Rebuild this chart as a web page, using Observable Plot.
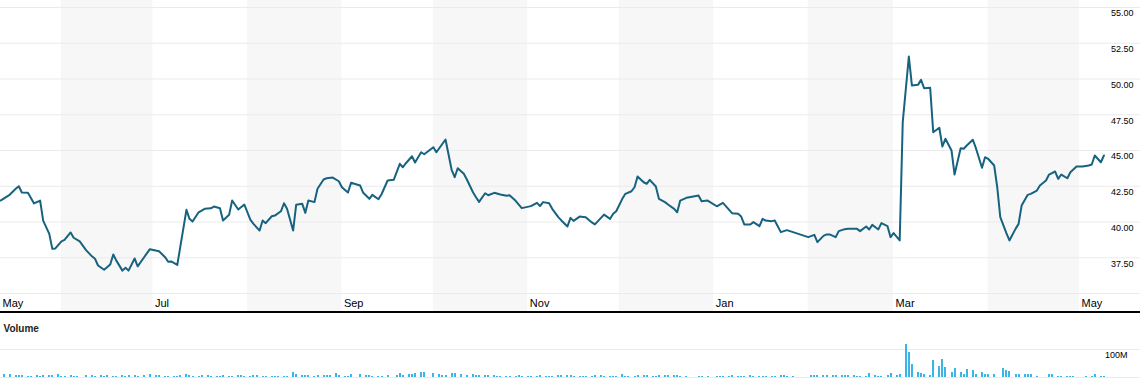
<!DOCTYPE html>
<html><head><meta charset="utf-8">
<script src="https://cdn.jsdelivr.net/npm/d3@7"></script>
<script src="https://cdn.jsdelivr.net/npm/@observablehq/plot@0.6"></script>
<style>
html,body{margin:0;padding:0;background:#fff;}
#chart{width:1140px;height:392px;overflow:hidden;font-family:"Liberation Sans",Arial,sans-serif;}
#sep{height:2px;background:#000;}
svg{display:block;}
</style></head><body>
<div id="chart"><div id="price"></div><div id="sep"></div><div id="volume"></div></div>
<script>
// ---- data ----
const xDomain = ["2018-05-12", "2019-05-21"];

const shadedMonthStarts = ["2018-06-01","2018-08-01","2018-10-01","2018-12-01","2019-02-01","2019-04-01"];
const shadedMonthEnds   = ["2018-07-01","2018-09-01","2018-11-01","2019-01-01","2019-03-01","2019-05-01"];

const monthTickDates  = ["2018-05-12","2018-07-01","2018-09-01","2018-11-01","2019-01-01","2019-03-01","2019-05-01"];
const monthTickLabels = ["May","Jul","Sep","Nov","Jan","Mar","May"];

const priceGridTicks  = [35, 37.5, 40, 42.5, 45, 47.5, 50, 52.5, 55];
const priceLabelTicks = [37.5, 40, 42.5, 45, 47.5, 50, 52.5, 55];
const volumeGridTicks = [0, 100];
const volumeLabelTicks = [100];

// closing price (date, close)
const prices = [
["2018-05-12",41.5],["2018-05-15",41.9],["2018-05-17",42.32],["2018-05-18",42.5],["2018-05-19",42.06],["2018-05-21",42.04],["2018-05-23",41.3],["2018-05-25",41.5],["2018-05-26",40.1],["2018-05-28",39.17],["2018-05-29",38.12],["2018-05-30",38.15],
["2018-06-01",38.64],["2018-06-02",38.75],["2018-06-04",39.27],["2018-06-05",38.9],["2018-06-07",38.64],["2018-06-09",38.05],["2018-06-11",37.6],["2018-06-12",37.43],["2018-06-13",36.96],["2018-06-15",36.66],["2018-06-17",37.03],["2018-06-18",37.73],["2018-06-19",37.3],["2018-06-21",36.6],["2018-06-22",36.8],["2018-06-23",36.6],["2018-06-25",37.45],["2018-06-26",36.9],["2018-06-28",37.5],["2018-06-30",38.1],
["2018-07-03",37.96],["2018-07-05",37.54],["2018-07-06",37.22],["2018-07-07",37.24],["2018-07-09",37.0],["2018-07-12",40.85],["2018-07-13",40.22],["2018-07-14",40.03],["2018-07-16",40.68],["2018-07-18",40.92],["2018-07-20",40.96],["2018-07-21",41.08],["2018-07-23",40.96],["2018-07-24",40.1],["2018-07-26",40.5],["2018-07-27",41.5],["2018-07-29",40.87],["2018-07-31",41.22],
["2018-08-02",40.15],["2018-08-03",39.87],["2018-08-05",39.4],["2018-08-06",40.1],["2018-08-07",39.92],["2018-08-09",40.4],["2018-08-10",40.45],["2018-08-12",40.75],["2018-08-13",41.31],["2018-08-14",40.92],["2018-08-16",39.4],["2018-08-17",41.2],["2018-08-19",41.27],["2018-08-20",40.64],["2018-08-21",41.5],["2018-08-23",41.39],["2018-08-24",42.32],["2018-08-26",42.97],["2018-08-27",43.06],["2018-08-29",43.11],["2018-08-31",42.85],
["2018-09-01",42.43],["2018-09-03",42.06],["2018-09-04",42.74],["2018-09-07",42.55],["2018-09-08",42.04],["2018-09-10",41.62],["2018-09-11",41.9],["2018-09-13",41.59],["2018-09-14",41.94],["2018-09-16",42.9],["2018-09-18",42.95],["2018-09-20",44.07],["2018-09-21",43.83],["2018-09-22",44.11],["2018-09-24",44.6],["2018-09-25",44.16],["2018-09-27",44.88],["2018-09-28",44.74],
["2018-10-01",45.23],["2018-10-02",44.88],["2018-10-05",45.77],["2018-10-07",43.65],["2018-10-08",43.13],["2018-10-09",43.76],["2018-10-11",43.37],["2018-10-12",42.97],["2018-10-14",42.08],["2018-10-15",41.73],["2018-10-16",41.41],["2018-10-18",42.01],["2018-10-19",41.87],["2018-10-21",42.04],["2018-10-23",41.92],["2018-10-25",41.83],["2018-10-26",41.87],["2018-10-28",41.48],["2018-10-30",40.97],
["2018-11-02",41.11],["2018-11-04",41.34],["2018-11-05",41.11],["2018-11-06",41.39],["2018-11-08",41.31],["2018-11-09",40.92],["2018-11-11",40.34],["2018-11-12",40.11],["2018-11-14",39.69],["2018-11-15",40.29],["2018-11-16",40.08],["2018-11-18",40.38],["2018-11-20",40.34],["2018-11-22",39.97],["2018-11-23",39.83],["2018-11-25",40.29],["2018-11-26",40.52],["2018-11-28",40.22],["2018-11-29",40.57],["2018-11-30",40.75],
["2018-12-02",41.62],["2018-12-03",41.97],["2018-12-05",42.15],["2018-12-06",42.43],["2018-12-07",43.18],["2018-12-09",42.78],["2018-12-10",42.67],["2018-12-11",42.95],["2018-12-13",42.48],["2018-12-14",41.62],["2018-12-16",41.39],["2018-12-17",41.22],["2018-12-19",40.92],["2018-12-20",40.68],["2018-12-21",41.5],["2018-12-23",41.69],["2018-12-24",41.73],["2018-12-27",41.85],["2018-12-28",41.45],["2018-12-30",41.5],
["2019-01-02",41.1],["2019-01-04",41.34],["2019-01-07",40.62],["2019-01-09",40.57],["2019-01-10",40.38],["2019-01-11",39.83],["2019-01-13",39.83],["2019-01-14",39.99],["2019-01-16",39.71],["2019-01-17",40.22],["2019-01-18",40.1],["2019-01-20",40.06],["2019-01-21",40.1],["2019-01-23",39.29],["2019-01-25",39.43],["2019-01-27",39.29],["2019-01-29",39.15],
["2019-02-01",38.94],["2019-02-03",39.1],["2019-02-04",38.59],["2019-02-06",39.03],["2019-02-07",39.13],["2019-02-08",39.13],["2019-02-10",38.94],["2019-02-11",39.36],["2019-02-13",39.5],["2019-02-14",39.52],["2019-02-15",39.52],["2019-02-17",39.52],["2019-02-18",39.36],["2019-02-20",39.69],["2019-02-21",39.48],["2019-02-22",39.8],["2019-02-24",39.48],["2019-02-25",39.92],["2019-02-27",39.71],["2019-02-28",38.94],
["2019-03-01",39.22],["2019-03-03",38.71],["2019-03-04",46.98],["2019-03-06",51.57],["2019-03-07",49.55],["2019-03-09",49.59],["2019-03-10",49.94],["2019-03-11",49.36],["2019-03-13",49.38],["2019-03-14",46.28],["2019-03-16",46.59],["2019-03-17",45.28],["2019-03-18",45.82],["2019-03-20",45.0],["2019-03-21",43.32],["2019-03-23",45.16],["2019-03-24",45.12],["2019-03-25",45.35],["2019-03-27",45.75],["2019-03-28",45.16],["2019-03-30",43.79],["2019-03-31",44.53],
["2019-04-01",44.42],["2019-04-03",43.95],["2019-04-04",42.43],["2019-04-05",40.34],["2019-04-07",39.22],["2019-04-08",38.71],["2019-04-10",39.52],["2019-04-11",39.87],["2019-04-12",41.15],["2019-04-14",41.9],["2019-04-15",41.97],["2019-04-17",42.2],["2019-04-18",42.55],["2019-04-20",42.9],["2019-04-21",43.32],["2019-04-23",43.53],["2019-04-24",43.02],["2019-04-25",43.32],["2019-04-27",43.06],["2019-04-28",43.48],["2019-04-30",43.88],
["2019-05-01",43.88],["2019-05-02",43.88],["2019-05-04",43.95],["2019-05-05",44.02],["2019-05-06",44.65],["2019-05-08",44.18],["2019-05-09",44.65]
];

// volume in millions (date, volume)
const volumes = [
["2018-05-13",11],["2018-05-15",11],["2018-05-17",7],["2018-05-18",7],["2018-05-19",7],["2018-05-21",4],["2018-05-22",4],["2018-05-24",7],["2018-05-25",4],["2018-05-26",7],["2018-05-28",7],["2018-05-29",7],["2018-05-31",11],
["2018-06-01",4],["2018-06-02",4],["2018-06-04",7],["2018-06-05",4],["2018-06-06",4],["2018-06-09",7],["2018-06-11",7],["2018-06-12",4],["2018-06-14",7],["2018-06-15",4],["2018-06-16",7],["2018-06-18",4],["2018-06-19",4],["2018-06-21",7],["2018-06-22",4],["2018-06-23",7],["2018-06-25",7],["2018-06-26",4],["2018-06-28",7],["2018-06-30",11],
["2018-07-02",7],["2018-07-03",7],["2018-07-05",4],["2018-07-06",4],["2018-07-08",4],["2018-07-09",4],["2018-07-10",7],["2018-07-12",11],["2018-07-13",7],["2018-07-14",4],["2018-07-16",4],["2018-07-17",7],["2018-07-19",7],["2018-07-20",4],["2018-07-22",4],["2018-07-23",4],["2018-07-24",7],["2018-07-26",4],["2018-07-27",4],["2018-07-29",7],["2018-07-30",7],["2018-07-31",4],
["2018-08-02",4],["2018-08-03",7],["2018-08-04",7],["2018-08-06",4],["2018-08-07",4],["2018-08-09",4],["2018-08-10",4],["2018-08-11",4],["2018-08-13",4],["2018-08-14",4],["2018-08-16",18],["2018-08-17",11],["2018-08-19",7],["2018-08-20",7],["2018-08-21",7],["2018-08-23",4],["2018-08-24",7],["2018-08-26",7],["2018-08-27",7],["2018-08-28",7],["2018-08-30",14],["2018-08-31",7],
["2018-09-02",4],["2018-09-03",4],["2018-09-04",11],["2018-09-07",11],["2018-09-09",7],["2018-09-10",7],["2018-09-11",4],["2018-09-13",4],["2018-09-14",4],["2018-09-16",7],["2018-09-19",7],["2018-09-20",14],["2018-09-21",7],["2018-09-23",11],["2018-09-24",11],["2018-09-25",14],["2018-09-27",18],["2018-09-28",18],
["2018-10-01",14],["2018-10-03",11],["2018-10-04",7],["2018-10-05",7],["2018-10-07",14],["2018-10-08",14],["2018-10-10",11],["2018-10-12",7],["2018-10-14",11],["2018-10-15",7],["2018-10-16",7],["2018-10-18",7],["2018-10-19",7],["2018-10-21",7],["2018-10-22",4],["2018-10-23",4],["2018-10-25",4],["2018-10-26",4],["2018-10-28",4],["2018-10-29",7],["2018-10-30",4],
["2018-11-01",4],["2018-11-02",4],["2018-11-04",4],["2018-11-05",7],["2018-11-07",4],["2018-11-08",4],["2018-11-09",4],["2018-11-11",7],["2018-11-12",7],["2018-11-14",7],["2018-11-15",7],["2018-11-16",4],["2018-11-18",4],["2018-11-19",4],["2018-11-20",4],["2018-11-22",4],["2018-11-23",7],["2018-11-25",7],["2018-11-26",4],["2018-11-28",4],["2018-11-29",4],["2018-11-30",4],
["2018-12-02",11],["2018-12-03",4],["2018-12-04",4],["2018-12-06",4],["2018-12-07",7],["2018-12-09",7],["2018-12-10",7],["2018-12-12",4],["2018-12-13",4],["2018-12-14",7],["2018-12-16",7],["2018-12-17",7],["2018-12-19",7],["2018-12-20",7],["2018-12-21",4],["2018-12-23",4],["2018-12-27",4],["2018-12-28",4],["2018-12-30",4],
["2019-01-02",4],["2019-01-03",4],["2019-01-04",4],["2019-01-06",4],["2019-01-07",7],["2019-01-09",4],["2019-01-10",4],["2019-01-11",4],["2019-01-13",7],["2019-01-14",4],["2019-01-16",4],["2019-01-17",4],["2019-01-18",4],["2019-01-20",4],["2019-01-21",4],["2019-01-23",7],["2019-01-24",7],["2019-01-25",4],["2019-01-27",4],
["2019-02-02",7],["2019-02-03",7],["2019-02-04",7],["2019-02-06",7],["2019-02-07",7],["2019-02-09",7],["2019-02-10",7],["2019-02-12",7],["2019-02-13",7],["2019-02-14",7],["2019-02-16",7],["2019-02-17",5],["2019-02-18",3],["2019-02-20",5],["2019-02-21",14],["2019-02-23",8],["2019-02-24",5],["2019-02-25",5],["2019-02-27",8],["2019-02-28",14],
["2019-03-02",8],["2019-03-03",12],["2019-03-05",118],["2019-03-06",90],["2019-03-07",46],["2019-03-09",18],["2019-03-10",14],["2019-03-11",12],["2019-03-13",8],["2019-03-14",61],["2019-03-16",39],["2019-03-17",65],["2019-03-18",35],["2019-03-20",18],["2019-03-21",33],["2019-03-23",18],["2019-03-24",12],["2019-03-25",29],["2019-03-27",26],["2019-03-28",12],["2019-03-30",18],["2019-03-31",10],
["2019-04-01",10],["2019-04-03",12],["2019-04-06",33],["2019-04-07",25],["2019-04-08",23],["2019-04-10",12],["2019-04-11",12],["2019-04-13",12],["2019-04-14",12],["2019-04-15",10],["2019-04-17",5],["2019-04-21",10],["2019-04-22",10],["2019-04-24",5],["2019-04-25",5],["2019-04-27",5],["2019-04-28",5],["2019-04-29",5],
["2019-05-03",5],["2019-05-05",5],["2019-05-06",10],["2019-05-08",5],["2019-05-09",5]
];

// ---- build ----
const parse = d3.utcParse("%Y-%m-%d");
const domainX = xDomain.map(parse);
const priceData = prices.map(([d, v]) => ({date: parse(d), close: v}));
const volumeData = volumes.map(([d, v]) => ({date: parse(d), volume: v}));
const bands = shadedMonthStarts.map((s, i) => ({start: parse(s), end: parse(shadedMonthEnds[i])}));
const monthTicks = monthTickDates.map((d, i) => ({date: parse(d), label: monthTickLabels[i]}));

const font = '"Liberation Sans", Arial, sans-serif';

const priceChart = Plot.plot({
  width: 1140, height: 311,
  marginTop: 0, marginBottom: 0, marginLeft: 0, marginRight: 0,
  style: {fontFamily: font, background: "#fff", color: "#000", overflow: "visible"},
  x: {type: "utc", domain: domainX, axis: null},
  y: {domain: [35, 55], range: [293, 7], label: null},
  marks: [
    Plot.rect(bands, {x1: "start", x2: "end", fill: "#f7f7f7"}),
    Plot.gridY(priceGridTicks, {stroke: "#ebebeb", strokeOpacity: 1}),
    Plot.line(priceData, {x: "date", y: "close", stroke: "#17637f", strokeWidth: 2, strokeLinejoin: "round"}),
    Plot.axisY(priceLabelTicks, {anchor: "right", label: null, tickSize: 0, tickPadding: 3, textAnchor: "end", dx: -10, dy: 6, fontSize: 9, fill: "#000", tickFormat: d => d.toFixed(2)}),
    Plot.text(monthTicks, {x: "date", text: "label", frameAnchor: "bottom", textAnchor: "start", lineAnchor: "middle", dx: 2, dy: -8, fontSize: 11, fill: "#000"})
  ]
});
document.getElementById("price").appendChild(priceChart);

const volumeChart = Plot.plot({
  width: 1140, height: 79,
  marginTop: 0, marginBottom: 0, marginLeft: 0, marginRight: 0,
  style: {fontFamily: font, background: "#fff", color: "#000", overflow: "visible"},
  x: {type: "utc", domain: domainX, axis: null},
  y: {domain: [0, 100], range: [64, 36], label: null},
  marks: [
    Plot.gridY(volumeGridTicks, {stroke: "#ebebeb", strokeOpacity: 1}),
    Plot.ruleX(volumeData, {x: "date", y: "volume", stroke: "#3bb5e5", strokeWidth: 2, shapeRendering: "crispEdges"}),
    Plot.axisY(volumeLabelTicks, {anchor: "right", label: null, tickSize: 0, tickPadding: 3, textAnchor: "end", dx: -16, dy: 6, fontSize: 9, fill: "#000", tickFormat: d => d + "M"}),
    Plot.text(["Volume"], {frameAnchor: "top-left", textAnchor: "start", lineAnchor: "middle", dx: 3, dy: 15, fontSize: 10, fontWeight: "bold", fill: "#222"})
  ]
});
document.getElementById("volume").appendChild(volumeChart);
</script></body></html>
